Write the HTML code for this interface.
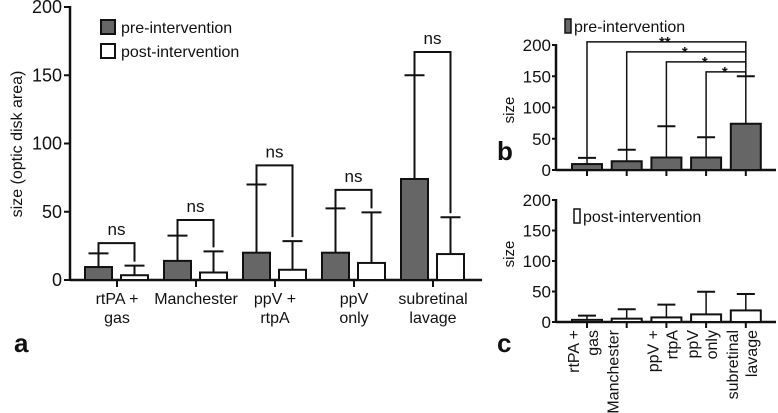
<!DOCTYPE html>
<html><head><meta charset="utf-8"><style>
body{margin:0;background:#fff}
svg{font-family:"Liberation Sans",Arial,sans-serif;display:block}
</style></head><body>
<svg id="s" width="778" height="413" viewBox="0 0 778 413"></svg>
<script>
const categories=["rtPA + |gas","Manchester","ppV + |rtpA","ppV |only","subretinal |lavage"];
const preValues=[9.5,14,20,20,74];
const preErr=[19.5,32.5,70,52.5,150];
const postValues=[3.5,5.5,7.5,12.5,19];
const postErr=[10.5,21,28.5,49.5,46];
const nsBracket=[27,44,84,66,167];
const yTicks=[0,50,100,150,200];
const sigLabels=["**","*","*","*"];
const sigLevels=[205,189,173,157];
const S=document.getElementById('s');const NS="http://www.w3.org/2000/svg";
function el(t,a,p){const e=document.createElementNS(NS,t);for(const k in a)e.setAttribute(k,a[k]);(p||S).appendChild(e);return e;}
function txt(x,y,s,sz,anc,extra){const e=el('text',Object.assign({x:x,y:y,'font-size':sz,'text-anchor':anc||'middle',fill:'#111'},extra||{}));e.textContent=s;return e;}
// panel a
const A={x0:70,y0:280,h:273,c0:117,step:79};
const ya=v=>A.y0-v/200*A.h, xa=i=>A.c0+i*A.step;
const ga=el('g',{});
yTicks.forEach(t=>{el('line',{x1:A.x0-6,x2:A.x0,y1:ya(t),y2:ya(t),stroke:'#111','stroke-width':2},ga);const l=txt(A.x0-8,ya(t)+6,t,18,'end',{});ga.appendChild(l);});
el('line',{x1:A.x0,x2:A.x0,y1:ya(200)-1,y2:A.y0+1,stroke:'#111','stroke-width':2.5},ga);
el('line',{x1:A.x0,x2:482,y1:A.y0,y2:A.y0,stroke:'#111','stroke-width':2.5},ga);
const yt=txt(0,0,'size (optic disk area)',16,'middle',{transform:'translate(22,144) rotate(-90)'});
categories.forEach((c,i)=>{const cx=xa(i);
 el('line',{x1:cx,x2:cx,y1:A.y0,y2:A.y0+7,stroke:'#111','stroke-width':2},ga);
 const lines=c.split('|');lines.forEach((s,j)=>{const l=txt(cx,A.y0+24+j*19,s.trim(),16);});
 const px=cx-32,qx=cx+4,w=27;
 el('line',{x1:px+w/2,x2:px+w/2,y1:ya(preErr[i]),y2:ya(preValues[i]),stroke:'#111','stroke-width':2},ga);
 el('line',{x1:px+w/2-10,x2:px+w/2+10,y1:ya(preErr[i]),y2:ya(preErr[i]),stroke:'#111','stroke-width':2},ga);
 const b1=el('rect',{x:px,y:ya(preValues[i]),width:w,height:preValues[i]/200*A.h,fill:'#666',stroke:'#111','stroke-width':2},ga);
 el('line',{x1:qx+w/2,x2:qx+w/2,y1:ya(postErr[i]),y2:ya(postValues[i]),stroke:'#111','stroke-width':2},ga);
 el('line',{x1:qx+w/2-10,x2:qx+w/2+10,y1:ya(postErr[i]),y2:ya(postErr[i]),stroke:'#111','stroke-width':2},ga);
 const b2=el('rect',{x:qx,y:ya(postValues[i]),width:w,height:postValues[i]/200*A.h,fill:'#fff',stroke:'#111','stroke-width':2},ga);
 const by=ya(nsBracket[i]);
 el('polyline',{points:`${px+w/2},${ya(preErr[i])} ${px+w/2},${by} ${qx+w/2},${by} ${qx+w/2},${ya(postErr[i])-4}`,fill:'none',stroke:'#111','stroke-width':2},ga);
 const n=txt((px+qx+w)/2,by-8,'ns',17);
});
// legend a
const l1=el('rect',{x:101,y:20,width:14,height:14,fill:'#666',stroke:'#111','stroke-width':2});
txt(121,33,'pre-intervention',16,'start');
const l2=el('rect',{x:101,y:44,width:14,height:14,fill:'#fff',stroke:'#111','stroke-width':2});
txt(121,57,'post-intervention',16,'start');
txt(14,352,'a',26,'start',{'font-weight':'bold'});
// panels b and c
function small(y0,h,vals,errs,fill,name){
 const x0=556,c0=587,st=39.7;const y=v=>y0-v/200*h,x=i=>c0+i*st;
 yTicks.forEach(t=>{el('line',{x1:x0-4,x2:x0,y1:y(t),y2:y(t),stroke:'#111','stroke-width':2});txt(x0-5,y(t)+6,t,17,'end');});
 el('line',{x1:x0,x2:x0,y1:y(200)-1,y2:y0+1,stroke:'#111','stroke-width':2.5});
 el('line',{x1:x0,x2:776,y1:y0,y2:y0,stroke:'#111','stroke-width':2.5});
 vals.forEach((v,i)=>{const cx=x(i);
  el('line',{x1:cx,x2:cx,y1:y0,y2:y0+6,stroke:'#111','stroke-width':2});
  el('line',{x1:cx,x2:cx,y1:y(errs[i]),y2:y(v),stroke:'#111','stroke-width':1.5});
  el('line',{x1:cx-9,x2:cx+9,y1:y(errs[i]),y2:y(errs[i]),stroke:'#111','stroke-width':2});
  const r=el('rect',{x:cx-15,y:y(v),width:30,height:v/200*h,fill:fill,stroke:'#111','stroke-width':2});
 });
 return {x,y};
}
const B=small(170,125,preValues,preErr,'#666','bar-pre-b');
txt(0,0,'size',15,'middle',{transform:'translate(514,110) rotate(-90)'});
el('rect',{x:565,y:19,width:6,height:14,fill:'#666',stroke:'#111','stroke-width':1.5});
txt(574,32,'pre-intervention',16,'start');
sigLevels.forEach((lv,i)=>{const yy=B.y(lv),xl=B.x(i),xr=B.x(4);
 el('polyline',{points:`${xl},${B.y(preErr[i])} ${xl},${yy} ${xr},${yy} ${xr},${yy+5}`,fill:'none',stroke:'#111','stroke-width':1.5});
 const s=txt(xr-81+i*20,yy+5,sigLabels[i],15,'middle',{'font-weight':'bold'});});
el('line',{x1:B.x(4),x2:B.x(4),y1:B.y(sigLevels[0]),y2:B.y(preErr[4]),stroke:'#111','stroke-width':1.5});
txt(497,160,'b',26,'start',{'font-weight':'bold'});
const C=small(322,122,postValues,postErr,'#fff','bar-post-c');
txt(0,0,'size',15,'middle',{transform:'translate(514,254) rotate(-90)'});
el('rect',{x:574,y:209,width:6,height:14,fill:'#fff',stroke:'#111','stroke-width':1.5});
txt(583,222,'post-intervention',16,'start');
categories.forEach((c,i)=>{const lines=c.split('|');const cx=C.x(i);
 lines.forEach((s,j)=>{const l=txt(0,0,s.trim(),16,'end',{transform:`translate(${cx-8+j*19},330) rotate(-90)`});});});
txt(497,352,'c',26,'start',{'font-weight':'bold'});
</script>
</body></html>
